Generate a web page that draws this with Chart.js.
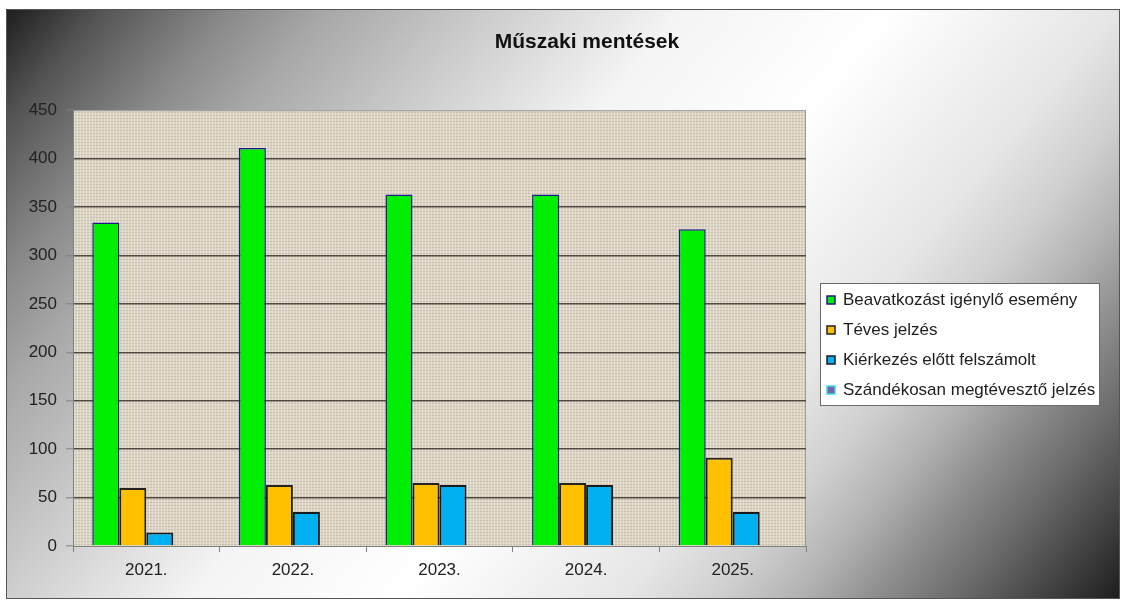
<!DOCTYPE html>
<html>
<head>
<meta charset="utf-8">
<script src="https://cdn.jsdelivr.net/npm/chart.js@4.4.0/dist/chart.umd.min.js"></script>
<style>
html,body{margin:0;padding:0;background:#ffffff;}
#wrap{position:relative;width:1125px;height:603px;overflow:hidden;}
#frame{position:absolute;left:6px;top:9px;width:1112px;height:588px;border:1px solid #555;
background:linear-gradient(130deg,#1e1e1e 0%,#555555 6%,#8a8a8a 14%,#a8a8a8 20%,#cccccc 30%,#f4f4f4 42%,#ffffff 55%,#e6e6e6 69%,#cfcfcf 75%,#b2b2b2 80%,#8c8c8c 85%,#6a6a6a 90%,#444444 95%,#1e1e1e 100%);}
#c{position:absolute;left:0;top:0;}
</style>
</head>
<body>
<div id="wrap"><div id="frame"></div><canvas id="c" width="1125" height="603"></canvas></div>
<script>
// ---- data ----
const categories = ['2021.', '2022.', '2023.', '2024.', '2025.'];
const seriesNames = ['Beavatkozást igénylő esemény', 'Téves jelzés', 'Kiérkezés előtt felszámolt', 'Szándékosan megtévesztő jelzés'];
const beavatkozas = [334, 411, 363, 363, 327];
const teves = [60, 63, 65, 65, 91];
const kierkezes = [14, 35, 63, 63, 35];
const szandekos = [0, 0, 0, 0, 1];
const yTicks = [0, 50, 100, 150, 200, 250, 300, 350, 400, 450];
const chartTitle = 'Műszaki mentések';

const FONT = "'Liberation Sans', Arial, sans-serif";

// texture for plot area
function makePattern(ctx) {
  const p = document.createElement('canvas');
  p.width = 6; p.height = 6;
  const g = p.getContext('2d');
  g.fillStyle = '#dcd4c4';
  g.fillRect(0, 0, 6, 6);
  g.fillStyle = 'rgba(185,174,154,0.55)';
  g.fillRect(0, 1, 6, 1);
  g.fillRect(0, 4, 6, 1);
  g.fillStyle = 'rgba(240,234,222,0.6)';
  g.fillRect(2, 0, 1, 6);
  g.fillRect(5, 0, 1, 6);
  return ctx.createPattern(p, 'repeat');
}

const decor = {
  id: 'decor',
  afterLayout(chart) {
    const tb = chart.titleBlock;
    if (tb) { tb.left += 184; tb.right += 184; }
  },
  beforeDraw(chart) {
    const ctx = chart.ctx;
    const a = chart.chartArea;
    ctx.save();
    ctx.fillStyle = makePattern(ctx);
    ctx.fillRect(a.left, a.top, a.right - a.left, a.bottom - a.top);
    ctx.strokeStyle = '#9a9a9a';
    ctx.lineWidth = 1;
    ctx.strokeRect(a.left + 0.5, a.top + 0.5, a.right - a.left - 1, a.bottom - a.top);
    ctx.restore();
  },
  afterDraw(chart) {
    // legend box with entries from the datasets
    const ctx = chart.ctx;
    ctx.save();
    ctx.fillStyle = '#ffffff';
    ctx.fillRect(820, 283, 279, 122);
    ctx.strokeStyle = '#6a6a6a';
    ctx.lineWidth = 1;
    ctx.strokeRect(820.5, 283.5, 279, 122);
    ctx.font = '17px ' + FONT;
    ctx.textBaseline = 'middle';
    ctx.textAlign = 'left';
    chart.data.datasets.forEach((ds, i) => {
      const cy = 300 + i * 30;
      ctx.fillStyle = ds.backgroundColor;
      ctx.fillRect(827, cy - 4, 8, 8);
      ctx.strokeStyle = ds.borderColor;
      ctx.lineWidth = 1.5;
      ctx.strokeRect(827, cy - 4, 8, 8);
      ctx.fillStyle = '#1e1e1e';
      ctx.fillText(ds.label, 843, cy);
    });
    ctx.restore();
  }
};

new Chart(document.getElementById('c'), {
  type: 'bar',
  data: {
    labels: categories,
    datasets: [
      { label: seriesNames[0], data: beavatkozas, backgroundColor: '#00ee00', borderColor: '#1a1a8a', borderWidth: 1.5 },
      { label: seriesNames[1], data: teves, backgroundColor: '#ffc000', borderColor: '#222222', borderWidth: 2 },
      { label: seriesNames[2], data: kierkezes, backgroundColor: '#00b0f0', borderColor: '#1a1a1a', borderWidth: 2 },
      { label: seriesNames[3], data: szandekos, backgroundColor: '#7f62a8', borderColor: '#33e0f0', borderWidth: 2 }
    ]
  },
  options: {
    responsive: false,
    animation: false,
    devicePixelRatio: 1,
    layout: { padding: { left: 0, right: 319, top: 0, bottom: 0 } },
    datasets: { bar: { categoryPercentage: 0.737, barPercentage: 1.0 } },
    plugins: {
      title: {
        display: true,
        text: chartTitle,
        color: '#111111',
        font: { family: FONT, size: 21, weight: 'bold' },
        padding: { top: 30, bottom: 55 }
      },
      legend: { display: false },
      tooltip: { enabled: false }
    },
    scales: {
      x: {
        grid: { display: true, drawOnChartArea: false, drawTicks: true, tickLength: 6, tickColor: '#808080', offset: true },
        border: { display: true, color: '#808080', width: 1 },
        ticks: { color: '#222222', font: { family: FONT, size: 17 }, padding: 8, maxRotation: 0 },
        afterFit(s) { s.height = 57; }
      },
      y: {
        min: 0,
        max: 450,
        afterBuildTicks(s) { s.ticks = yTicks.map(v => ({ value: v })); },
        grid: {
          color: (c) => (c.tick && (c.tick.value === 450 || c.tick.value === 0)) ? 'rgba(0,0,0,0)' : 'rgba(66,60,54,0.9)',
          lineWidth: 1.6,
          tickLength: 7,
          tickColor: '#808080',
          tickWidth: 1
        },
        border: { display: true, color: '#808080', width: 1 },
        ticks: { color: '#222222', font: { family: FONT, size: 17 }, padding: 9, stepSize: 50 },
        afterFit(s) { s.width = 73; }
      }
    }
  },
  plugins: [decor]
});
</script>
</body>
</html>
